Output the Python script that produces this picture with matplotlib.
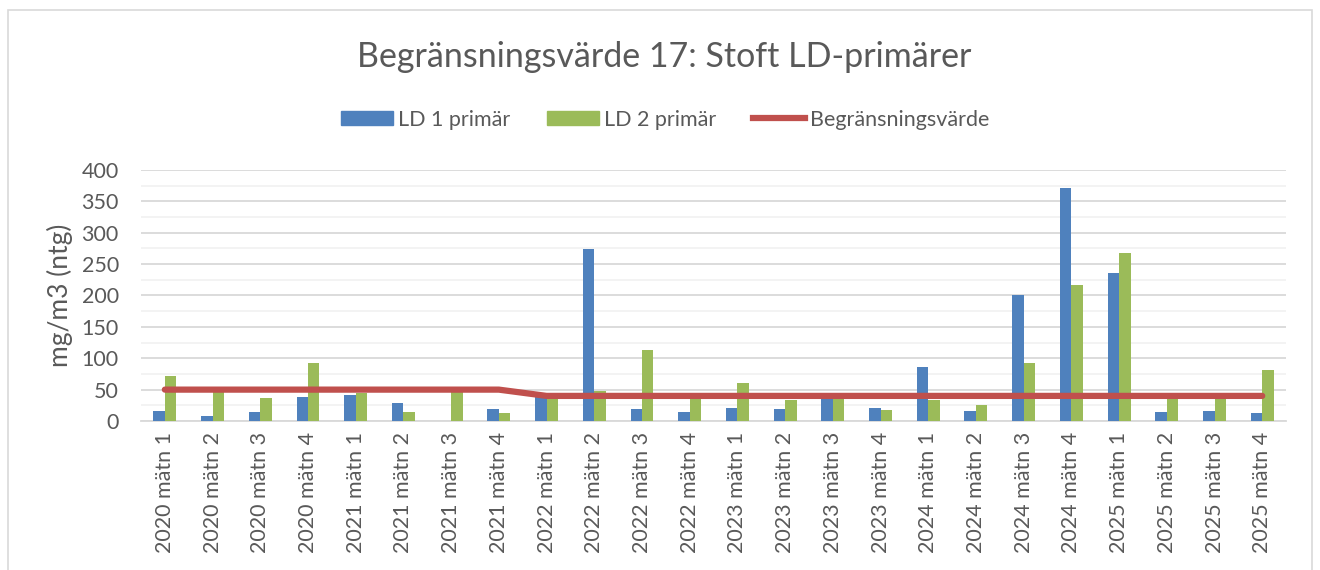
import numpy as np
import matplotlib
matplotlib.use("Agg")
import matplotlib.pyplot as plt
from matplotlib.patches import Patch, Rectangle
from matplotlib.lines import Line2D

plt.rcParams['font.family'] = ['Lato', 'DejaVu Sans']

# Kategorier (mätningar)
categories = [f"{year} mätn {m}" for year in range(2020, 2026) for m in range(1, 5)]

# Mätvärden, mg/m3 (ntg)
ld1 = [16, 8, 14, 39, 41, 29, 0, 19,
       42, 274, 19, 14, 20, 19, 38, 20,
       86, 16, 201, 372, 236, 14, 16, 12]
ld2 = [72, 46, 37, 92, 45, 14, 47, 12,
       44, 48, 113, 38, 60, 33, 38, 17,
       33, 25, 93, 217, 267, 38, 38, 82]
limit = [50] * 8 + [40] * 16

txt = '#595959'
blue = '#4f81bd'
green = '#9bbb59'
red = '#c0504d'

fig = plt.figure(figsize=(13.2, 5.7), dpi=100)
ax = fig.add_axes([0.1068, 0.2614, 0.8675, 0.4404])

x = np.arange(len(categories))
w = 0.24
ax.bar(x - w / 2, ld1, width=w, color=blue, zorder=3)
ax.bar(x + w / 2, ld2, width=w, color=green, zorder=3)
ax.plot(x, limit, color=red, linewidth=4.5, solid_capstyle='round', zorder=4)

ax.set_xlim(-0.5, len(categories) - 0.5)
ax.set_ylim(0, 400)
ax.set_yticks(np.arange(0, 401, 50))
ax.set_yticks(np.arange(25, 400, 50), minor=True)
ax.grid(axis='y', which='major', color='#d9d9d9', linewidth=1.3, zorder=0)
ax.grid(axis='y', which='minor', color='#f2f2f2', linewidth=1.3, zorder=0)
ax.set_xticks(x)
ax.set_xticklabels(categories, rotation=90, fontsize=15.5, color=txt)
ax.tick_params(axis='both', which='both', length=0)
ax.tick_params(axis='x', pad=8)
ax.tick_params(axis='y', labelsize=15.5, labelcolor=txt, pad=16)
for s in ['left', 'right', 'top']:
    ax.spines[s].set_visible(False)
ax.spines['bottom'].set_color('#d9d9d9')
ax.spines['bottom'].set_linewidth(1.3)

ax.set_ylabel('mg/m3 (ntg)', fontsize=19, color=txt, labelpad=6)

fig.text(0.503, 0.9, 'Begränsningsvärde 17: Stoft LD-primärer',
         ha='center', va='center', fontsize=24.5, color=txt)

handles = [Patch(color=blue, label='LD 1 primär'),
           Patch(color=green, label='LD 2 primär'),
           Line2D([0], [0], color=red, linewidth=4.5, label='Begränsningsvärde')]
fig.legend(handles=handles, loc='center', bbox_to_anchor=(0.504, 0.79), ncol=3,
           frameon=False, fontsize=15.5, labelcolor=txt, columnspacing=1.7,
           handlelength=2.4, handleheight=0.6, handletextpad=0.25)

# Ram runt diagramytan
fig.patches.append(Rectangle((8 / 1320, -0.01), 1304 / 1320, 1 - 10 / 570 + 0.01,
                             transform=fig.transFigure, fill=False,
                             edgecolor='#d9d9d9', linewidth=1.2))

fig.savefig('out.png', dpi=100, facecolor='white')
